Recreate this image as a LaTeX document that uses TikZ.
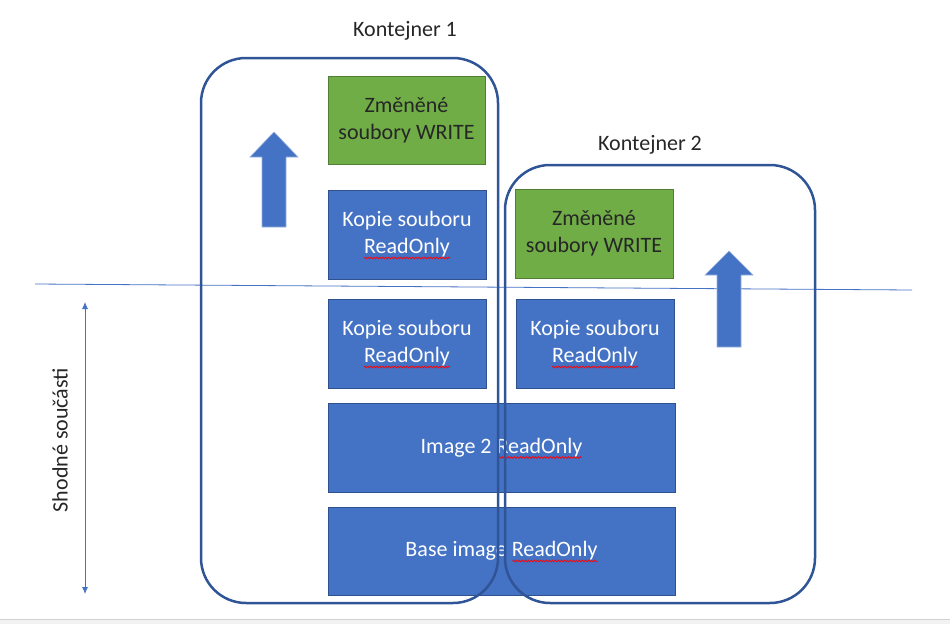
\documentclass[tikz,border=0pt]{standalone}
\usepackage{fontspec}
\setmainfont{Carlito}
\usepackage{tikz}
\usetikzlibrary{arrows.meta,positioning,decorations.pathmorphing}

\definecolor{boxblue}{HTML}{4472C4}
\definecolor{boxblueline}{HTML}{2F528F}
\definecolor{boxgreen}{HTML}{70AD47}
\definecolor{boxgreenline}{HTML}{507E32}
\definecolor{kontline}{HTML}{2F5597}
\definecolor{textdark}{HTML}{262626}

\tikzset{
    ro/.style={draw=boxblueline, fill=boxblue, text=white, align=center, inner sep=0pt, line width=1pt, font=\fontsize{22}{27}\selectfont},
    rw/.style={ro, draw=boxgreenline, fill=boxgreen, text=textdark},
    kont/.style={draw=kontline, line width=2.5pt, rounded corners=45pt, inner sep=0pt},
    sipka/.style={fill=boxblue, draw=boxblue!55, line width=0.6pt},
    popis/.style={text=textdark, font=\fontsize{22}{27}\selectfont},
    chyba/.style={red, line width=0.7pt, decorate, decoration={snake, amplitude=0.9pt, segment length=3pt}},
}

\begin{document}
\begin{tikzpicture}[x=1pt, y=-1pt]
        \useasboundingbox (0, 0) rectangle (950, 624);
        \fill[gray!10] (0, 619) rectangle (950, 624);
        \draw[gray!35] (0, 619) -- (950, 619);

        % hranice sdilenych vrstev
        \coordinate (hl) at (35, 284);
        \coordinate (hr) at (912, 290);
        \draw[boxblue, line width=0.8pt] (hl) -- (hr);

        % vrstvy
        \node[rw, minimum width=157, minimum height=88] (zmena1) at (406.5, 120) {Změněné\\soubory WRITE};
        \node[ro, minimum width=158, minimum height=89] (kopie1) at (407, 234.5) {Kopie souboru\\ReadOnly};
        \node[ro, minimum width=158, minimum height=89] (kopie2) at (407, 343.5) {Kopie souboru\\ReadOnly};
        \node[rw, minimum width=158, minimum height=89] (zmena2) at (594, 233.5) {Změněné\\soubory WRITE};
        \node[ro, minimum width=158, minimum height=89] (kopie3) at (595, 343.5) {Kopie souboru\\ReadOnly};
        \node[ro, minimum width=347, minimum height=89] (image2) at (501.5, 447.5) {Image 2 ReadOnly};
        \node[ro, minimum width=347, minimum height=88] (base) at (501.5, 551) {Base image ReadOnly};

        % podtrzeni ReadOnly
        \draw[chyba] ([xshift=-43pt, yshift=-23.5pt]kopie1.center) -- ++(86, 0);
        \draw[chyba] ([xshift=-43pt, yshift=-23.5pt]kopie2.center) -- ++(86, 0);
        \draw[chyba] ([xshift=-43pt, yshift=-23.5pt]kopie3.center) -- ++(86, 0);
        \draw[chyba] ([xshift=-3pt, yshift=-10pt]image2.center) -- ++(83, 0);
        \draw[chyba] ([xshift=11pt, yshift=-10pt]base.center) -- ++(85, 0);

        % sipky nahoru
        \draw[sipka] (262, 227) -- (262, 157) -- (250, 157) -- (274, 132) -- (298, 157) -- (286, 157) -- (286, 227) -- cycle;
        \draw[sipka] (717, 347) -- (717, 275) -- (705, 275) -- (729, 251) -- (753, 275) -- (741, 275) -- (741, 347) -- cycle;

        % kontejnery
        \node[kont, minimum width=297, minimum height=545] (kont1) at (349.5, 330.5) {};
        \node[kont, minimum width=310, minimum height=438] (kont2) at (660, 384) {};
        \node[popis] (kont1label) at (405, 31) {Kontejner 1};
        \node[popis] (kont2label) at (650, 145) {Kontejner 2};

        % shodne soucasti
        \coordinate (st) at (85, 302);
        \coordinate (sb) at (85, 594);
        \draw[boxblue, line width=0.8pt, {Latex[length=7pt,width=6pt]}-{Latex[length=7pt,width=6pt]}] (st) -- (sb);
        \node[popis, rotate=90] (shodne) at (60, 440) {Shodné součásti};
\end{tikzpicture}
\end{document}
